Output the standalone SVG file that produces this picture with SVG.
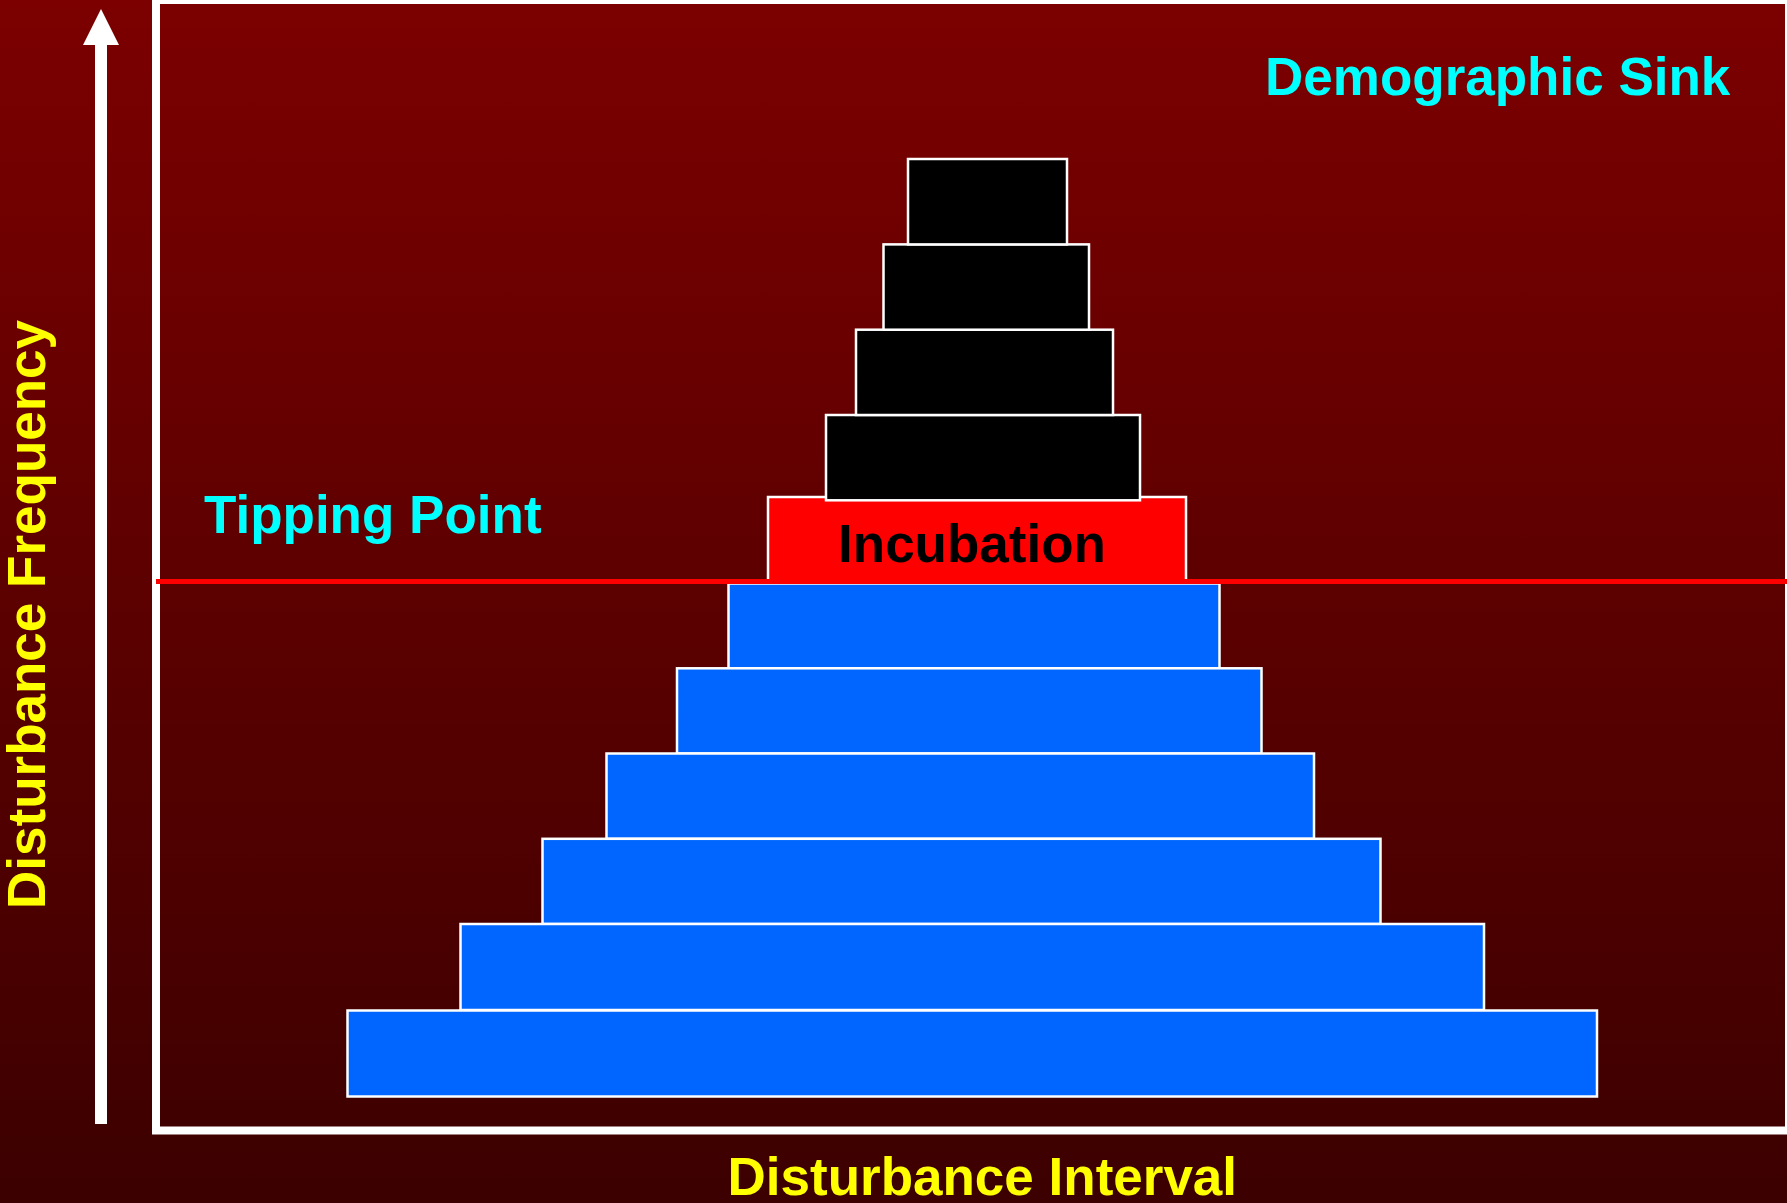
<svg xmlns="http://www.w3.org/2000/svg" width="1787" height="1203" viewBox="0 0 1787 1203">
<defs>
<linearGradient id="bg" x1="0" y1="0" x2="0" y2="1">
<stop offset="0" stop-color="#7c0000"/>
<stop offset="1" stop-color="#3c0000"/>
</linearGradient>
<style>
.t{font-family:"Liberation Sans",Arial,sans-serif;font-weight:bold;font-size:53px}
.blk{fill:#000000;stroke:#ffffff;stroke-width:2.5}
.blu{fill:#0066ff;stroke:#ffffff;stroke-width:2.5}
</style>
</defs>
<rect x="0" y="0" width="1787" height="1203" fill="url(#bg)"/>
<g id="frame">
<rect x="156" y="0" width="1633" height="1130.5" fill="none" stroke="#ffffff" stroke-width="8"/>
</g>
<g id="axis-arrow">
<rect x="95" y="44" width="12" height="1080" fill="#ffffff"/>
<polygon points="101,9 119,45 83,45" fill="#ffffff"/>
</g>
<g id="incubation">
<rect x="768" y="497" width="418" height="85" fill="#ff0000" stroke="#ffffff" stroke-width="2.5"/>
<text class="t" x="972" y="562" text-anchor="middle" fill="#000000">Incubation</text>
</g>
<g id="black-tiers">
<rect id="b4" class="blk" x="826" y="415" width="314" height="85.3"/>
<rect id="b3" class="blk" x="856" y="329.7" width="257" height="85.3"/>
<rect id="b2" class="blk" x="883.5" y="244.4" width="205.5" height="85.3"/>
<rect id="b1" class="blk" x="908" y="159" width="159" height="85.4"/>
</g>
<g id="blue-tiers">
<rect id="u1" class="blu" x="728.5" y="583.5" width="491" height="84.8"/>
<rect id="u2" class="blu" x="677" y="668.3" width="584.5" height="85.2"/>
<rect id="u3" class="blu" x="606.5" y="753.5" width="707.5" height="85.3"/>
<rect id="u4" class="blu" x="542.5" y="838.8" width="838" height="85.2"/>
<rect id="u5" class="blu" x="460.5" y="924" width="1023.5" height="86"/>
<rect id="u6" class="blu" x="347.5" y="1010.5" width="1249.5" height="86"/>
</g>
<g id="connectors">
<line x1="156" y1="581.5" x2="1787" y2="581.5" stroke="#ff0000" stroke-width="5"/>
</g>
<g id="labels">
<text class="t" x="1265" y="95" fill="#00ffff">Demographic Sink</text>
<text class="t" x="204" y="533" fill="#00ffff">Tipping Point</text>
<text class="t" x="727.5" y="1195" fill="#ffff00">Disturbance Interval</text>
<text class="t" transform="translate(45,909) rotate(-90)" x="0" y="0" fill="#ffff00">Disturbance Frequency</text>
</g>
</svg>
